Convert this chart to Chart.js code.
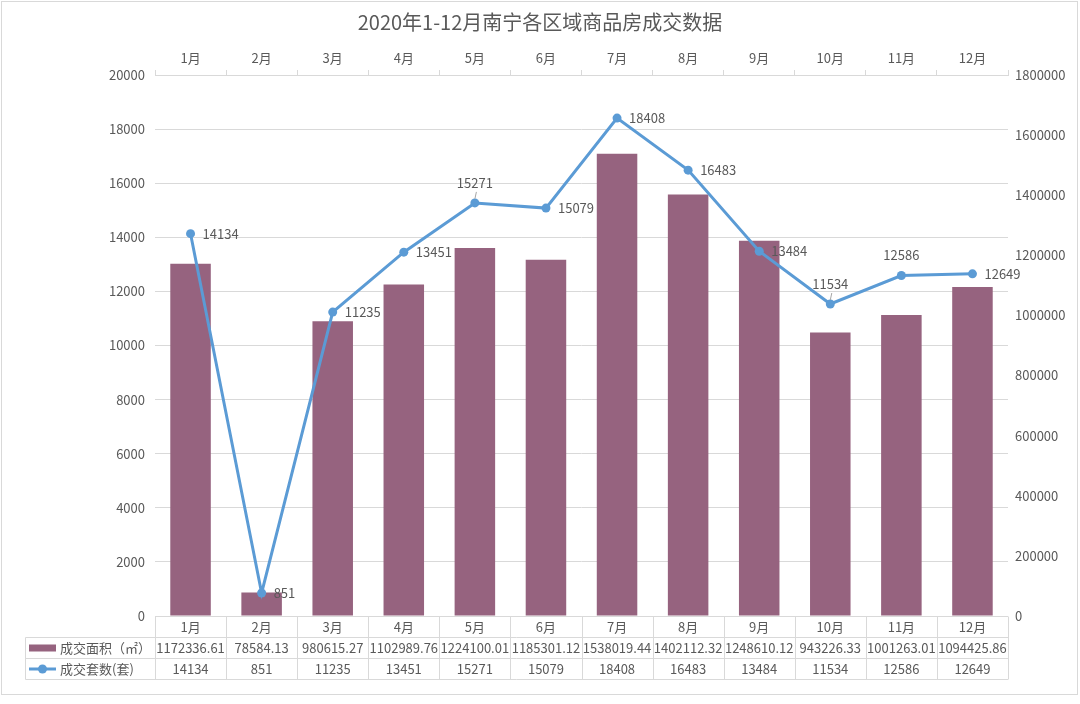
<!DOCTYPE html>
<html>
<head>
<meta charset="utf-8">
<script src="https://cdn.jsdelivr.net/npm/chart.js@4/dist/chart.umd.min.js"></script>
<style>
  body { margin: 0; background: #fff; }
  #wrap { width: 1080px; height: 704px; }
</style>
</head>
<body>
<div id="wrap"><canvas id="chart" width="1080" height="704"></canvas></div>
<script>
const months = ['1月', '2月', '3月', '4月', '5月', '6月', '7月', '8月', '9月', '10月', '11月', '12月'];
const areaValues = [1172336.61, 78584.13, 980615.27, 1102989.76, 1224100.01, 1185301.12, 1538019.44, 1402112.32, 1248610.12, 943226.33, 1001263.01, 1094425.86];
const unitValues = [14134, 851, 11235, 13451, 15271, 15079, 18408, 16483, 13484, 11534, 12586, 12649];
const areaLabel = '成交面积（㎡）';
const unitLabel = '成交套数(套)';
const titleText = '2020年1-12月南宁各区域商品房成交数据';

// where each line value label goes ('lead' = above, with a small leader line)
const labelSide = ['right', 'right', 'right', 'right', 'lead', 'right', 'right', 'right', 'right', 'lead', 'top', 'right'];

const barColor = '#96637f';
const lineColor = '#5b9bd5';
const textColor = '#595959';
const gridColor = '#d9d9d9';
const font = '"Noto Sans CJK SC", "Microsoft YaHei", sans-serif';

Chart.defaults.font.family = font;
Chart.defaults.color = textColor;

// value labels next to the line points
const pointLabels = {
    id: 'pointLabels',
    afterDatasetsDraw(chart) {
        const ctx = chart.ctx;
        const meta = chart.getDatasetMeta(0);
        ctx.save();
        ctx.font = '13px ' + font;
        ctx.fillStyle = textColor;
        ctx.textBaseline = 'middle';
        meta.data.forEach((pt, i) => {
            const txt = String(unitValues[i]);
            if (labelSide[i] === 'right') {
                ctx.textAlign = 'left';
                ctx.fillText(txt, pt.x + 12, pt.y);
                return;
            }
            ctx.textAlign = 'center';
            ctx.fillText(txt, pt.x, pt.y - 20);
            if (labelSide[i] === 'lead') {
                ctx.strokeStyle = '#a6a6a6';
                ctx.lineWidth = 1;
                ctx.beginPath();
                ctx.moveTo(pt.x + 1.5, pt.y - 11);
                ctx.lineTo(pt.x, pt.y - 4);
                ctx.stroke();
            }
        });
        ctx.restore();
    }
};

// data table under the plot + outer frame
const dataTable = {
    id: 'dataTable',
    afterDraw(chart) {
        const ctx = chart.ctx;
        const area = chart.chartArea;
        const xs = chart.scales.x;
        const cw = (area.right - area.left) / months.length;
        const top = Math.round(area.bottom) + 0.5;
        const rh = 21;
        const tableLeft = 25.5;
        ctx.save();
        ctx.strokeStyle = gridColor;
        ctx.lineWidth = 1;
        ctx.beginPath();
        ctx.moveTo(area.left, top); ctx.lineTo(area.right, top);
        for (let r = 1; r <= 3; r++) {
            ctx.moveTo(tableLeft, top + r * rh);
            ctx.lineTo(area.right, top + r * rh);
        }
        ctx.moveTo(tableLeft, top + rh); ctx.lineTo(tableLeft, top + 3 * rh);
        for (let i = 0; i <= months.length; i++) {
            const bx = Math.round(area.left + i * cw) + 0.5;
            ctx.moveTo(bx, top); ctx.lineTo(bx, top + 3 * rh);
        }
        ctx.stroke();

        ctx.font = '13px ' + font;
        ctx.fillStyle = textColor;
        ctx.textAlign = 'center';
        ctx.textBaseline = 'middle';
        months.forEach((m, i) => {
            const cx = xs.getPixelForValue(i);
            ctx.fillText(m, cx, top + rh * 0.5);
            ctx.fillText(areaValues[i].toFixed(2), cx, top + rh * 1.5);
            ctx.fillText(String(unitValues[i]), cx, top + rh * 2.5);
        });

        // legend keys
        ctx.textAlign = 'left';
        ctx.fillStyle = barColor;
        ctx.fillRect(29, top + rh * 1.5 - 3.5, 27, 7);
        ctx.strokeStyle = lineColor;
        ctx.lineWidth = 3;
        ctx.beginPath();
        ctx.moveTo(29, top + rh * 2.5); ctx.lineTo(56, top + rh * 2.5);
        ctx.stroke();
        ctx.fillStyle = lineColor;
        ctx.beginPath();
        ctx.arc(42.5, top + rh * 2.5, 4.5, 0, Math.PI * 2);
        ctx.fill();
        ctx.fillStyle = textColor;
        ctx.fillText(areaLabel, 60, top + rh * 1.5);
        ctx.fillText(unitLabel, 60, top + rh * 2.5);

        // outer frame
        ctx.strokeStyle = gridColor;
        ctx.lineWidth = 1;
        ctx.strokeRect(1.5, 1.5, 1076, 693);
        ctx.restore();
    }
};

const plain = v => String(v);

new Chart(document.getElementById('chart'), {
    data: {
        labels: months,
        datasets: [
            {
                type: 'line',
                label: unitLabel,
                data: unitValues,
                yAxisID: 'y',
                borderColor: lineColor,
                backgroundColor: lineColor,
                borderWidth: 3,
                pointRadius: 4.5,
                pointBackgroundColor: lineColor,
                pointBorderWidth: 0,
                tension: 0,
                order: 0
            },
            {
                type: 'bar',
                label: areaLabel,
                data: areaValues,
                yAxisID: 'y1',
                backgroundColor: barColor,
                categoryPercentage: 1,
                barPercentage: 0.57,
                order: 1
            }
        ]
    },
    options: {
        responsive: false,
        animation: false,
        layout: { padding: { left: 0, right: 0, top: 0, bottom: 88 } },
        plugins: {
            legend: { display: false },
            tooltip: { enabled: false },
            title: {
                display: true,
                text: titleText,
                color: textColor,
                font: { size: 20, weight: 'normal' },
                padding: { top: 10, bottom: 6 }
            }
        },
        scales: {
            x: {
                position: 'top',
                grid: { drawOnChartArea: false, drawTicks: true, tickLength: 5, color: gridColor, offset: true },
                border: { display: true, color: gridColor },
                ticks: { font: { size: 13 }, color: textColor, padding: 4 },
                afterFit(s) { s.height = 35; }
            },
            y: {
                position: 'left',
                min: 0,
                max: 20000,
                ticks: { stepSize: 2000, font: { size: 13 }, color: textColor, padding: 10, callback: plain },
                grid: { color: gridColor, drawTicks: false },
                border: { display: false },
                afterFit(s) { s.width = 155; }
            },
            y1: {
                position: 'right',
                min: 0,
                max: 1800000,
                ticks: { stepSize: 200000, font: { size: 13 }, color: textColor, padding: 7, callback: plain },
                grid: { drawOnChartArea: false, drawTicks: false },
                border: { display: false },
                afterFit(s) { s.width = 72; }
            }
        }
    },
    plugins: [pointLabels, dataTable]
});
</script>
</body>
</html>
